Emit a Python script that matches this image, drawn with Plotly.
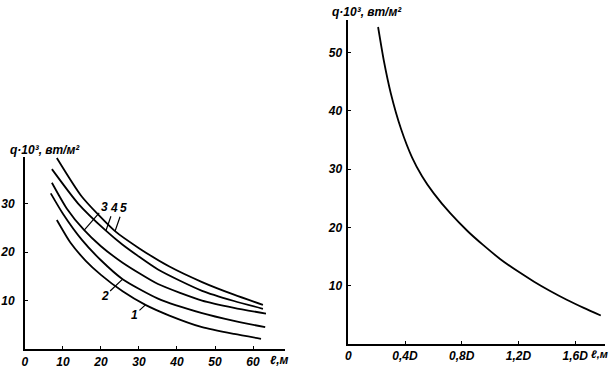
import plotly.graph_objects as go

# ---------- data: left panel (curves 1..5) ----------
c5_x = [8.4, 15, 23.7, 30, 38, 46.6, 55, 62.6]
c5_y = [39.4, 31.4, 24.3, 20.8, 17.0, 13.8, 11.2, 9.1]
c4_x = [7.1, 14, 21.3, 25.7, 35, 46.6, 55, 62.6]
c4_y = [37.1, 30.0, 24.4, 21.5, 16.4, 12.0, 9.9, 8.3]
c3_x = [7.1, 11, 15.6, 20, 25.7, 35, 46.6, 55, 63.4]
c3_y = [34.3, 29.0, 24.5, 21.2, 17.8, 13.4, 10.0, 8.5, 7.3]
c2_x = [6.8, 10, 15, 20, 25.7, 35, 46.6, 55, 63.2]
c2_y = [32.1, 27.9, 22.5, 18.3, 14.4, 10.4, 7.4, 5.8, 4.5]
c1_x = [8.4, 12, 16, 20, 25.7, 31.7, 38, 46.6, 55, 62.1]
c1_y = [26.6, 21.9, 18.2, 15.3, 11.9, 9.1, 6.9, 4.5, 3.1, 2.1]

left_xticks = [0, 10, 20, 30, 40, 50, 60]
left_yticks = [10, 20, 30]

# ---------- data: right panel ----------
r_x = [0.21, 0.25, 0.30, 0.372, 0.45, 0.52, 0.604, 0.72, 0.842, 0.95,
       1.07, 1.19, 1.31, 1.42, 1.54, 1.66, 1.78]
r_y = [54.4, 48.7, 43.0, 36.9, 32.0, 28.8, 25.8, 22.4, 19.35, 17.0,
       14.6, 12.55, 10.7, 9.15, 7.6, 6.2, 4.9]
right_xtickvals = [0, 0.4, 0.8, 1.2, 1.6]
right_xticktext = ["0", "0,4D", "0,8D", "1,2D", "1,6D"]
right_yticks = [10, 20, 30, 40, 50]

y_title = "q·10³, вт/м²"
x_title = "ℓ,м"

W, H = 610, 380
FONT = dict(family="Liberation Sans", size=12, color="black", style="italic", weight="bold")

fig = go.Figure()
line = dict(color="black", width=1.8, shape="spline", smoothing=0.6)
for xs, ys in [(c1_x, c1_y), (c2_x, c2_y), (c3_x, c3_y), (c4_x, c4_y), (c5_x, c5_y)]:
    fig.add_trace(go.Scatter(x=xs, y=ys, mode="lines", line=line, xaxis="x", yaxis="y",
                             showlegend=False, hoverinfo="skip"))
fig.add_trace(go.Scatter(x=r_x, y=r_y, mode="lines", line=line, xaxis="x2", yaxis="y2",
                         showlegend=False, hoverinfo="skip"))

ax_common = dict(showline=True, linecolor="black", linewidth=1.6, showgrid=False,
                 zeroline=False, ticks="inside", ticklen=3, tickcolor="black",
                 tickfont=FONT)

fig.update_layout(
    width=W, height=H,
    margin=dict(l=0, r=0, t=0, b=0),
    paper_bgcolor="white", plot_bgcolor="white",
    xaxis=dict(domain=[22 / W, 283 / W], range=[0, 68.3], anchor="y",
               tickvals=left_xticks, ticklabelstandoff=1, **ax_common),
    yaxis=dict(domain=[1 - 349 / H, 1 - 157 / H], range=[0, 39.6], anchor="x",
               tickvals=left_yticks, ticklabelstandoff=6, **ax_common),
    xaxis2=dict(domain=[347 / W, 605 / W], range=[0, 1.81], anchor="y2",
                tickvals=right_xtickvals, ticktext=right_xticktext,
                ticklabelstandoff=0, **ax_common),
    yaxis2=dict(domain=[1 - 344 / H, 1 - 20 / H], range=[0, 55.6], anchor="x2",
                tickvals=right_yticks, ticklabelstandoff=2, **ax_common),
)

ann = []
# axis titles
ann.append(dict(text=y_title, xref="paper", yref="paper", x=5 / W, y=1 - 150 / H,
                xanchor="left", yanchor="middle", showarrow=False, font=FONT))
ann.append(dict(text=y_title, xref="paper", yref="paper", x=329 / W, y=1 - 12 / H,
                xanchor="left", yanchor="middle", showarrow=False, font=FONT))
ann.append(dict(text=x_title, xref="paper", yref="paper", x=266 / W, y=1 - 360 / H,
                xanchor="left", yanchor="middle", showarrow=False, font=FONT))
ann.append(dict(text=x_title, xref="paper", yref="paper", x=610 / W, y=1 - 354 / H,
                xanchor="right", yanchor="middle", showarrow=False,
                font=dict(FONT, size=11)))

# curve labels with leader lines
LF = dict(family="Liberation Sans", size=12, color="black", style="italic", weight="bold")
labels = [
    ("3", c3_x[2], c3_y[2], 20, -23),
    ("4", c4_x[2], c4_y[2], 8, -23),
    ("5", c5_x[2], c5_y[2], 8, -23),
    ("2", c2_x[4], c2_y[4], -18, 17),
    ("1", c1_x[5], c1_y[5], -11, 10),
]
for t, x, y, dx, dy in labels:
    ann.append(dict(text=t, x=x, y=y, xref="x", yref="y", ax=dx, ay=dy,
                    showarrow=True, arrowhead=0, arrowwidth=1.2, arrowcolor="black",
                    standoff=0, font=LF))
fig.update_layout(annotations=ann)

fig.write_html("out.html", post_script="document.body.style.margin='0';",
               config={"displayModeBar": False})
